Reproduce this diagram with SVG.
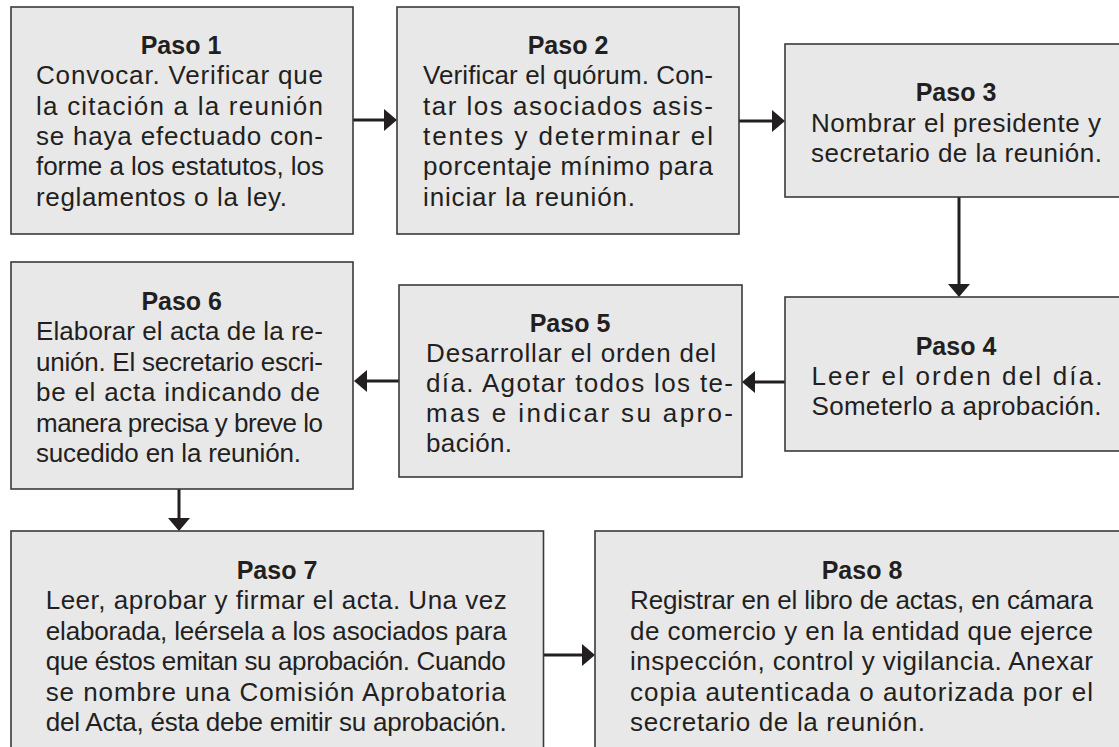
<svg xmlns="http://www.w3.org/2000/svg" width="1119" height="747" viewBox="0 0 1119 747">
<style>
.box{fill:#e8e8e8;stroke:#3a3a3a;stroke-width:1.6}
.t{font-family:"Liberation Sans",Arial,sans-serif;font-size:26px;fill:#231f20}
.h{font-family:"Liberation Sans",Arial,sans-serif;font-size:25px;font-weight:bold;fill:#231f20;text-anchor:middle}
.c{stroke:#231f20;stroke-width:3;fill:none;marker-end:url(#ah)}
</style>
<defs>
<marker id="ah" markerUnits="userSpaceOnUse" markerWidth="14" markerHeight="22" refX="3" refY="11" orient="auto" viewBox="0 0 14 22">
<path d="M0,0 L13,11 L0,22 z" fill="#231f20"/>
</marker>
</defs>
<rect width="1119" height="747" fill="#ffffff"/>
<g id="connectors">
<line class="c" x1="353" y1="120" x2="387" y2="120"/>
<line class="c" x1="739" y1="121" x2="775" y2="121"/>
<line class="c" x1="959" y1="197" x2="959" y2="287"/>
<line class="c" x1="785" y1="382" x2="752" y2="382"/>
<line class="c" x1="399" y1="381" x2="364" y2="381"/>
<line class="c" x1="179" y1="489" x2="179" y2="521"/>
<line class="c" x1="543" y1="655" x2="585" y2="655"/>
</g>
<g id="paso1">
<rect class="box" x="11" y="7" width="342" height="227"/>
<text class="h" x="181" y="54">Paso 1</text>
<text class="t" x="36" y="84.3" textLength="287" lengthAdjust="spacing">Convocar. Verificar que</text>
<text class="t" x="36" y="114.6" textLength="287" lengthAdjust="spacing">la citación a la reunión</text>
<text class="t" x="36" y="144.9" textLength="287" lengthAdjust="spacing">se haya efectuado con-</text>
<text class="t" x="36" y="175.2" textLength="288" lengthAdjust="spacing">forme a los estatutos, los</text>
<text class="t" x="36" y="205.5" textLength="251" lengthAdjust="spacing">reglamentos o la ley.</text>
</g>
<g id="paso2">
<rect class="box" x="397" y="7" width="342" height="227"/>
<text class="h" x="568" y="54">Paso 2</text>
<text class="t" x="423" y="84.3" textLength="290" lengthAdjust="spacing">Verificar el quórum. Con-</text>
<text class="t" x="423" y="114.6" textLength="290" lengthAdjust="spacing">tar los asociados asis-</text>
<text class="t" x="423" y="144.9" textLength="290" lengthAdjust="spacing">tentes y determinar el</text>
<text class="t" x="423" y="175.2" textLength="290" lengthAdjust="spacing">porcentaje mínimo para</text>
<text class="t" x="423" y="205.5" textLength="212" lengthAdjust="spacing">iniciar la reunión.</text>
</g>
<g id="paso3">
<rect class="box" x="785" y="44" width="345" height="153"/>
<text class="h" x="956" y="101">Paso 3</text>
<text class="t" x="811" y="132" textLength="290" lengthAdjust="spacing">Nombrar el presidente y</text>
<text class="t" x="811" y="162" textLength="291" lengthAdjust="spacing">secretario de la reunión.</text>
</g>
<g id="paso4">
<rect class="box" x="785" y="297" width="345" height="154"/>
<text class="h" x="956" y="355">Paso 4</text>
<text class="t" x="811.5" y="385" textLength="291" lengthAdjust="spacing">Leer el orden del día.</text>
<text class="t" x="811.5" y="415" textLength="290" lengthAdjust="spacing">Someterlo a aprobación.</text>
</g>
<g id="paso5">
<rect class="box" x="399" y="285" width="343" height="192"/>
<text class="h" x="570" y="332">Paso 5</text>
<text class="t" x="426" y="362" textLength="290" lengthAdjust="spacing">Desarrollar el orden del</text>
<text class="t" x="426" y="392" textLength="307" lengthAdjust="spacing">día. Agotar todos los te-</text>
<text class="t" x="426" y="422" textLength="307" lengthAdjust="spacing">mas e indicar su apro-</text>
<text class="t" x="426" y="452" textLength="86" lengthAdjust="spacing">bación.</text>
</g>
<g id="paso6">
<rect class="box" x="11" y="262" width="342" height="227"/>
<text class="h" x="181.7" y="310">Paso 6</text>
<text class="t" x="36" y="340.4" textLength="287" lengthAdjust="spacing">Elaborar el acta de la re-</text>
<text class="t" x="36" y="370.8" textLength="287" lengthAdjust="spacing">unión. El secretario escri-</text>
<text class="t" x="36" y="401.2" textLength="284" lengthAdjust="spacing">be el acta indicando de</text>
<text class="t" x="36" y="431.6" textLength="287" lengthAdjust="spacing">manera precisa y breve lo</text>
<text class="t" x="36" y="462" textLength="265" lengthAdjust="spacing">sucedido en la reunión.</text>
</g>
<g id="paso7">
<rect class="box" x="11" y="531" width="532.5" height="240"/>
<text class="h" x="277" y="579">Paso 7</text>
<text class="t" x="45.7" y="609.4" textLength="461" lengthAdjust="spacing">Leer, aprobar y firmar el acta. Una vez</text>
<text class="t" x="45.7" y="639.8" textLength="461" lengthAdjust="spacing">elaborada, leérsela a los asociados para</text>
<text class="t" x="45.7" y="670.2" textLength="460" lengthAdjust="spacing">que éstos emitan su aprobación. Cuando</text>
<text class="t" x="45.7" y="700.6" textLength="460" lengthAdjust="spacing">se nombre una Comisión Aprobatoria</text>
<text class="t" x="45.7" y="731" textLength="461" lengthAdjust="spacing">del Acta, ésta debe emitir su aprobación.</text>
</g>
<g id="paso8">
<rect class="box" x="595" y="531" width="535" height="240"/>
<text class="h" x="862" y="579">Paso 8</text>
<text class="t" x="630" y="609.4" textLength="463" lengthAdjust="spacing">Registrar en el libro de actas, en cámara</text>
<text class="t" x="630" y="639.8" textLength="463" lengthAdjust="spacing">de comercio y en la entidad que ejerce</text>
<text class="t" x="630" y="670.2" textLength="463" lengthAdjust="spacing">inspección, control y vigilancia. Anexar</text>
<text class="t" x="630" y="700.6" textLength="463" lengthAdjust="spacing">copia autenticada o autorizada por el</text>
<text class="t" x="630" y="731" textLength="295" lengthAdjust="spacing">secretario de la reunión.</text>
</g>
</svg>
